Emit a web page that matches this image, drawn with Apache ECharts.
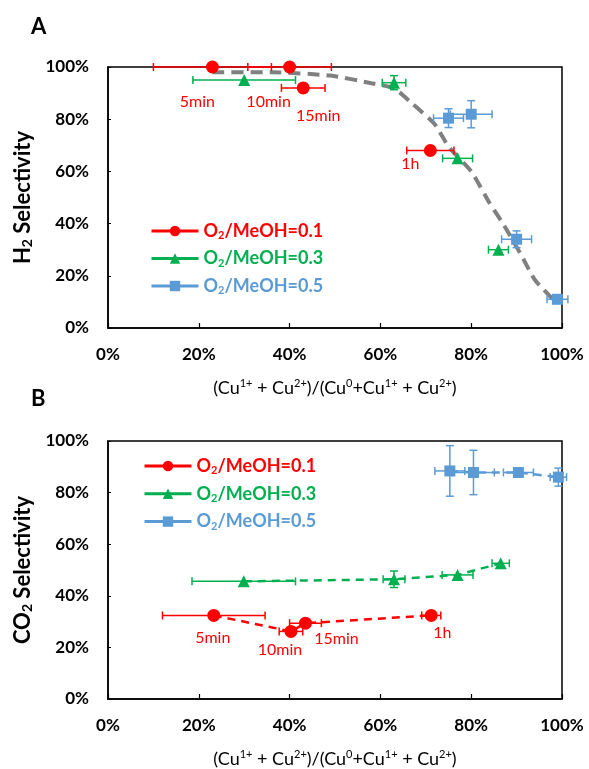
<!DOCTYPE html>
<html>
<head>
<meta charset="utf-8">
<script src="https://cdn.jsdelivr.net/npm/echarts@6/dist/echarts.min.js"></script>
<style>
  html, body { margin: 0; padding: 0; background: #fff; }
  #chart { width: 589px; height: 769px; }
</style>
</head>
<body>
<div id="chart"></div>
<script>
// ---- Panel A: H2 selectivity vs oxidised copper fraction (%) ----
const timeLabels = ['5min', '10min', '15min', '1h'];

const h2X_01 = [23, 40, 43, 71];
const h2Y_01 = [100, 100, 92, 68];
const h2XErr_01 = [13, 9.2, 4.8, 5.2];
const h2YErr_01 = [0, 0, 0, 0];

const h2X_03 = [30, 63, 77, 86];
const h2Y_03 = [95, 94, 65, 30];
const h2XErr_03 = [11.3, 2.6, 3.3, 2.2];
const h2YErr_03 = [0, 2.7, 0, 0];

const h2X_05 = [75, 80, 90, 99];
const h2Y_05 = [80.4, 81.9, 34, 11];
const h2XErr_05 = [3.3, 4.6, 3.3, 2.3];
const h2YErr_05 = [3.6, 5.2, 3.2, 0];

// hand-drawn trend guide through panel A
const trendX = [23, 36, 49, 58, 63, 67, 72, 75, 80, 84, 87, 91, 94, 98];
const trendY = [98, 98, 96.7, 93.8, 91.8, 86, 78, 69.5, 60, 48, 40, 28, 18.5, 11];

// ---- Panel B: CO2 selectivity ----
const co2X_01 = [23.3, 40.3, 43.5, 71.2];
const co2Y_01 = [32.4, 26.2, 29.4, 32.4];
const co2XErr_01 = [11.3, 2.6, 3.5, 2.1];
const co2YErr_01 = [0, 0, 0, 0];

const co2X_03 = [29.9, 63, 77, 86.5];
const co2Y_03 = [45.6, 46.4, 48.1, 52.6];
const co2XErr_03 = [11.4, 2.4, 3.4, 1.9];
const co2YErr_03 = [0, 3.2, 0, 0];

const co2X_05 = [75.3, 80.5, 90.4, 99.2];
const co2Y_05 = [88.4, 87.8, 87.8, 86.0];
const co2XErr_05 = [3.3, 4.6, 3.3, 1.8];
const co2YErr_05 = [9.8, 8.6, 0, 3.5];

const seriesNames = ['O2/MeOH=0.1', 'O2/MeOH=0.3', 'O2/MeOH=0.5'];
const RED = '#FF0000', GREEN = '#00B050', BLUE = '#5B9BD5', GREY = '#808080';
const FONT = 'Lato';

// label placement (pixel offsets from each point)
const labelOffsetA = [[-15, 35], [-21, 35], [15, 28], [-20, 13]];
const labelOffsetB = [[-1, 22], [-11, 18], [31, 16], [11, 17]];

function pairs(xs, ys) { return xs.map((x, i) => [x, ys[i]]); }
function errRows(xs, ys, xe, ye) { return xs.map((x, i) => [x, ys[i], xe[i], ye[i]]); }

// horizontal / vertical error bars with end caps
function errorBars(color) {
  return function (params, api) {
    const x = api.value(0), y = api.value(1), xe = api.value(2), ye = api.value(3);
    const cap = 4;
    const style = { stroke: color, lineWidth: 1.5 };
    const children = [];
    if (xe > 0) {
      const l = api.coord([x - xe, y]), r = api.coord([x + xe, y]);
      children.push({ type: 'line', shape: { x1: l[0], y1: l[1], x2: r[0], y2: r[1] }, style });
      children.push({ type: 'line', shape: { x1: l[0], y1: l[1] - cap, x2: l[0], y2: l[1] + cap }, style });
      children.push({ type: 'line', shape: { x1: r[0], y1: r[1] - cap, x2: r[0], y2: r[1] + cap }, style });
    }
    if (ye > 0) {
      const t = api.coord([x, y + ye]), b = api.coord([x, y - ye]);
      children.push({ type: 'line', shape: { x1: t[0], y1: t[1], x2: b[0], y2: b[1] }, style });
      children.push({ type: 'line', shape: { x1: t[0] - cap, y1: t[1], x2: t[0] + cap, y2: t[1] }, style });
      children.push({ type: 'line', shape: { x1: b[0] - cap, y1: b[1], x2: b[0] + cap, y2: b[1] }, style });
    }
    return { type: 'group', children };
  };
}

function errSeries(idx, color, rows) {
  return {
    type: 'custom', xAxisIndex: idx, yAxisIndex: idx, z: 2,
    renderItem: errorBars(color), data: rows, silent: true,
    encode: { x: 0, y: 1 }
  };
}

function timeData(xs, ys, offsets) {
  return xs.map((x, i) => ({
    value: [x, ys[i]],
    label: {
      show: true, formatter: timeLabels[i], position: 'inside',
      offset: offsets[i], color: RED, fontSize: 16, fontFamily: FONT,
      align: 'center', verticalAlign: 'middle'
    }
  }));
}

const subRich = {
  n: { fontFamily: FONT, fontWeight: 'bold', fontSize: 18 },
  s: { fontFamily: FONT, fontWeight: 'bold', fontSize: 11, verticalAlign: 'bottom', padding: [8, 0, 0, 0] }
};

const xName = '{p|(Cu}{sup|1+}{p| + Cu}{sup|2+}{p|)/(Cu}{sup|0}{p|+Cu}{sup|1+}{p| + Cu}{sup|2+}{p|)}';
const xNameRich = {
  p: { fontFamily: FONT, fontSize: 18, color: '#000' },
  sup: { fontFamily: FONT, fontSize: 11, color: '#000', verticalAlign: 'top', padding: [0, 0, 9, 0] }
};

function yNameText(mol) {
  return '{b|' + mol + '}{s|2}{b| Selectivity}';
}
const yNameRich = {
  b: { fontFamily: FONT, fontSize: 22, fontWeight: 'bold', color: '#000' },
  s: { fontFamily: FONT, fontSize: 14, fontWeight: 'bold', color: '#000', verticalAlign: 'bottom', padding: [10, 0, 0, 0] }
};

function xAxisFor(idx) {
  return {
    type: 'value', gridIndex: idx, min: 0, max: 100, interval: 20,
    name: xName, nameLocation: 'middle', nameGap: 50,
    nameTextStyle: { rich: xNameRich },
    axisLine: { lineStyle: { color: '#000', width: 1.5 } },
    axisTick: { inside: true, length: 5, lineStyle: { color: '#000', width: 1.2 } },
    axisLabel: { formatter: '{value}%', margin: 18, color: '#000', fontFamily: FONT, fontWeight: 'bold', fontSize: 17 },
    splitLine: { show: false }
  };
}

function yAxisFor(idx, mol) {
  return {
    type: 'value', gridIndex: idx, min: 0, max: 100, interval: 20,
    name: yNameText(mol), nameLocation: 'middle', nameGap: 68, nameRotate: 90,
    nameTextStyle: { rich: yNameRich },
    axisLine: { lineStyle: { color: '#000', width: 1.5 } },
    axisTick: { inside: true, length: 3, lineStyle: { color: '#000', width: 1 } },
    axisLabel: { formatter: '{value}%', margin: 19, color: '#000', fontFamily: FONT, fontWeight: 'bold', fontSize: 17 },
    splitLine: { show: false }
  };
}

function markerSeries(idx, name, color, symbol, size, data, line) {
  return {
    type: 'line', name, xAxisIndex: idx, yAxisIndex: idx, z: 5,
    symbol, symbolSize: size, data,
    itemStyle: { color },
    lineStyle: line ? { color, width: 2.5, type: [8, 6] } : { color, width: 0, opacity: 0 },
    emphasis: { disabled: true },
    animation: false
  };
}

function legendFor(names, left, top, gap) {
  return {
    orient: 'vertical', left, top, itemWidth: 47, itemHeight: 13, itemGap: gap,
    selectedMode: false,
    formatter: name => '{n|O}{s|2}{n|' + name.trim().slice(2) + '}',
    textStyle: { fontFamily: FONT, fontWeight: 'bold', fontSize: 18, lineHeight: 20, rich: subRich },
    lineStyle: { width: 3, opacity: 1, type: 'solid' },
    data: [
      { name: names[0], textStyle: { color: RED } },
      { name: names[1], textStyle: { color: GREEN } },
      { name: names[2], textStyle: { color: BLUE } }
    ]
  };
}

const chart = echarts.init(document.getElementById('chart'), null, { renderer: 'canvas' });

// panel B series carry a trailing space so each panel keeps its own legend
const nameA = seriesNames, nameB = seriesNames.map(n => n + ' ');

chart.setOption({
  animation: false,
  backgroundColor: '#fff',
  title: [
    { text: 'A', left: 26, top: 11, textStyle: { fontFamily: FONT, fontWeight: 'bold', fontSize: 22, color: '#000' } },
    { text: 'B', left: 26, top: 383, textStyle: { fontFamily: FONT, fontWeight: 'bold', fontSize: 22, color: '#000' } }
  ],
  grid: [
    { left: 108, top: 67, width: 454, height: 261, show: true, borderColor: '#000', borderWidth: 1.5, backgroundColor: 'transparent' },
    { left: 108, top: 441, width: 454, height: 261, show: true, borderColor: '#000', borderWidth: 1.5, backgroundColor: 'transparent' }
  ],
  legend: [
    legendFor(nameA, 145, 216, 7.5),
    legendFor(nameB, 138, 451, 7.8)
  ],
  xAxis: [xAxisFor(0), xAxisFor(1)],
  yAxis: [yAxisFor(0, 'H'), yAxisFor(1, 'CO')],
  series: [
    // panel A
    {
      type: 'line', xAxisIndex: 0, yAxisIndex: 0, z: 1, smooth: 0.2,
      data: pairs(trendX, trendY), symbol: 'none', silent: true,
      lineStyle: { color: GREY, width: 4, type: [12, 7] }
    },
    errSeries(0, RED, errRows(h2X_01, h2Y_01, h2XErr_01, h2YErr_01)),
    errSeries(0, GREEN, errRows(h2X_03, h2Y_03, h2XErr_03, h2YErr_03)),
    errSeries(0, BLUE, errRows(h2X_05, h2Y_05, h2XErr_05, h2YErr_05)),
    markerSeries(0, nameA[0], RED, 'circle', 13, timeData(h2X_01, h2Y_01, labelOffsetA), false),
    markerSeries(0, nameA[1], GREEN, 'triangle', 12, pairs(h2X_03, h2Y_03), false),
    markerSeries(0, nameA[2], BLUE, 'rect', 11, pairs(h2X_05, h2Y_05), false),
    // panel B
    errSeries(1, RED, errRows(co2X_01, co2Y_01, co2XErr_01, co2YErr_01)),
    errSeries(1, GREEN, errRows(co2X_03, co2Y_03, co2XErr_03, co2YErr_03)),
    errSeries(1, BLUE, errRows(co2X_05, co2Y_05, co2XErr_05, co2YErr_05)),
    markerSeries(1, nameB[0], RED, 'circle', 13, timeData(co2X_01, co2Y_01, labelOffsetB), true),
    markerSeries(1, nameB[1], GREEN, 'triangle', 12, pairs(co2X_03, co2Y_03), true),
    markerSeries(1, nameB[2], BLUE, 'rect', 11, pairs(co2X_05, co2Y_05), true)
  ]
});
</script>
</body>
</html>
